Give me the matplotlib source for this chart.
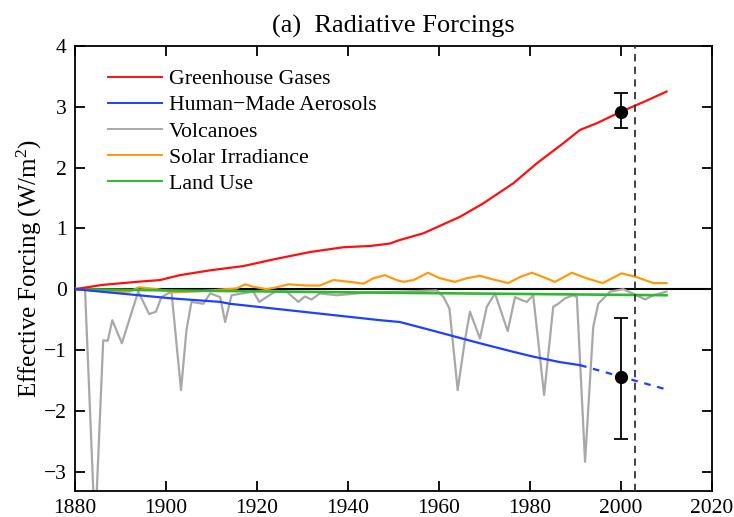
import matplotlib
matplotlib.use("Agg")
import matplotlib.pyplot as plt

# forcing histories (W/m^2), read year by year
ghg_years = [1880, 1886, 1893.5, 1898.7, 1903, 1909.7, 1917, 1924.3, 1931.6, 1939, 1944.8,
             1949.2, 1951, 1956.6, 1964.6, 1969.7, 1976.3, 1981.5, 1987.3, 1991, 1994.7,
             2000, 2005, 2010]
ghg_vals = [0.0, 0.07, 0.12, 0.15, 0.23, 0.31, 0.38, 0.5, 0.61, 0.69, 0.71,
            0.75, 0.8, 0.92, 1.19, 1.41, 1.74, 2.07, 2.4, 2.62, 2.73,
            2.92, 3.08, 3.25]

aer_years = [1880, 1901, 1912, 1914, 1947, 1951.4, 1958, 1969, 1976.3, 1980.7, 1986.6, 1991]
aer_vals = [0.0, -0.15, -0.21, -0.24, -0.51, -0.54, -0.67, -0.89, -1.03, -1.11, -1.2, -1.25]
aer_proj_years = [1991, 2010]
aer_proj_vals = [-1.25, -1.65]

volc_years = [1880, 1882.2, 1884.4, 1886.2, 1887.2, 1888.2, 1890.3, 1893.9, 1896.3, 1897.8,
              1899, 1901.2, 1903.3, 1904.5, 1905.6, 1908.2, 1909.7, 1911.9, 1913, 1914.4,
              1919.2, 1920.5, 1922.1, 1924, 1926.5, 1929.1, 1930.5, 1932, 1933.8, 1937.5,
              1945, 1952, 1959.5, 1961, 1962.3, 1964.1, 1965.7, 1966.8, 1969, 1970.5,
              1972.3, 1975.1, 1976.7, 1978.2, 1979.3, 1980.7, 1983.1, 1985.1, 1986.2, 1987.7,
              1989.5, 1990.3, 1992.1, 1993.9, 1995, 1997.6, 2000.5, 2003.4, 2005.3, 2007.1,
              2010]
volc_vals = [0.0, 0.0, -4.0, -0.84, -0.85, -0.51, -0.89, -0.04, -0.41, -0.37,
             -0.13, -0.04, -1.66, -0.67, -0.21, -0.24, -0.07, -0.13, -0.54, -0.1,
             -0.04, -0.21, -0.13, -0.04, -0.04, -0.21, -0.12, -0.17, -0.07, -0.1,
             -0.05, -0.04, -0.02, -0.13, -0.32, -1.66, -0.84, -0.37, -0.81, -0.29,
             -0.07, -0.69, -0.13, -0.18, -0.21, -0.1, -1.74, -0.29, -0.24, -0.15,
             -0.1, -0.13, -2.84, -0.62, -0.24, -0.04, 0.0, -0.1, -0.17, -0.1,
             -0.04]

sol_years = [1880, 1884, 1888, 1892, 1894, 1898, 1902, 1906, 1910, 1913, 1915.5, 1917.4,
             1919.2, 1922.1, 1924.3, 1926.9, 1930.9, 1933.8, 1936.8, 1940.4, 1943.4,
             1945.6, 1948.1, 1950.7, 1952.2, 1954.4, 1957.6, 1960.2, 1963.5, 1966.1,
             1969, 1971.9, 1975.2, 1977.8, 1980.4, 1982.9, 1985.5, 1989.2, 1992.4,
             1996, 2000.1, 2003.4, 2007.1, 2010]
sol_vals = [0.01, -0.02, -0.05, -0.04, 0.03, 0.0, -0.05, -0.04, -0.02, 0.0, 0.01, 0.08,
            0.04, 0.0, 0.03, 0.08, 0.06, 0.06, 0.15, 0.12, 0.09,
            0.18, 0.23, 0.15, 0.12, 0.15, 0.27, 0.18, 0.12, 0.18,
            0.22, 0.16, 0.1, 0.2, 0.27, 0.2, 0.12, 0.27, 0.18,
            0.1, 0.26, 0.2, 0.1, 0.1]

land_years = [1880, 1900, 1950, 2010]
land_vals = [0.0, -0.02, -0.06, -0.1]

# observational estimates for 2000 with uncertainty
est_year = 2000
ghg_est, ghg_lo, ghg_hi = 2.92, 2.65, 3.22
aer_est, aer_lo, aer_hi = -1.45, -2.47, -0.48

plt.rcParams['font.family'] = ['Liberation Serif', 'DejaVu Serif']
plt.rcParams['mathtext.fontset'] = 'custom'
plt.rcParams['mathtext.rm'] = 'Liberation Serif'
plt.rcParams['mathtext.it'] = 'Liberation Serif:italic'

fig = plt.figure(figsize=(7.34, 5.17), dpi=100)
ax = fig.add_axes([75 / 734, 26 / 517, 637 / 734, 445 / 517])

ax.axhline(0, color='black', lw=1.5, zorder=1)
ax.plot(ghg_years, ghg_vals, color='#ff1010', lw=1.6, label='Greenhouse Gases', zorder=4)
ax.plot(aer_years, aer_vals, color='#2040ff', lw=1.6, label='Human\u2212Made Aerosols', zorder=4)
ax.plot(aer_proj_years, aer_proj_vals, color='#2040ff', lw=1.6, ls=(0, (3, 3)), zorder=4)
ax.plot(volc_years, volc_vals, color='#a8a8a8', lw=1.6, label='Volcanoes', zorder=2)
ax.plot(sol_years, sol_vals, color='#ff9a10', lw=1.6, label='Solar Irradiance', zorder=3)
ax.plot(land_years, land_vals, color='#30b830', lw=1.9, label='Land Use', zorder=3)

ax.axvline(2003, color='#333333', lw=1.3, ls=(0, (4, 3)), zorder=5)

for est, lo, hi in [(ghg_est, ghg_lo, ghg_hi), (aer_est, aer_lo, aer_hi)]:
    ax.errorbar([est_year], [est], yerr=[[est - lo], [hi - est]], fmt='o', color='black',
                ms=8.5, capsize=5, elinewidth=1.3, capthick=1.3, zorder=6)

ax.set_xlim(1880, 2020)
ax.set_ylim(-3.32, 4)
ax.set_xticks(range(1880, 2021, 20))
ax.set_yticks(range(-3, 5))
ax.tick_params(direction='in', length=7, width=1.3, labelsize=15.5, top=True, right=True,
               labelright=False, labeltop=False, pad=6)
for sp in ax.spines.values():
    sp.set_linewidth(1.3)

ax.set_title('(a)  Radiative Forcings', fontsize=19, pad=10)
ax.set_ylabel(r'Effective Forcing (W/m$^2$)', fontsize=18)
ax.yaxis.set_label_coords(-0.049, 0.5)

leg = ax.legend(loc='upper left', bbox_to_anchor=(0.038, 0.968), frameon=False, fontsize=15.7,
                handlelength=2.5, handletextpad=0.3, labelspacing=0.27, borderaxespad=0)
for line in leg.get_lines():
    line.set_linewidth(1.4)

fig.savefig('out.png', dpi=100)
